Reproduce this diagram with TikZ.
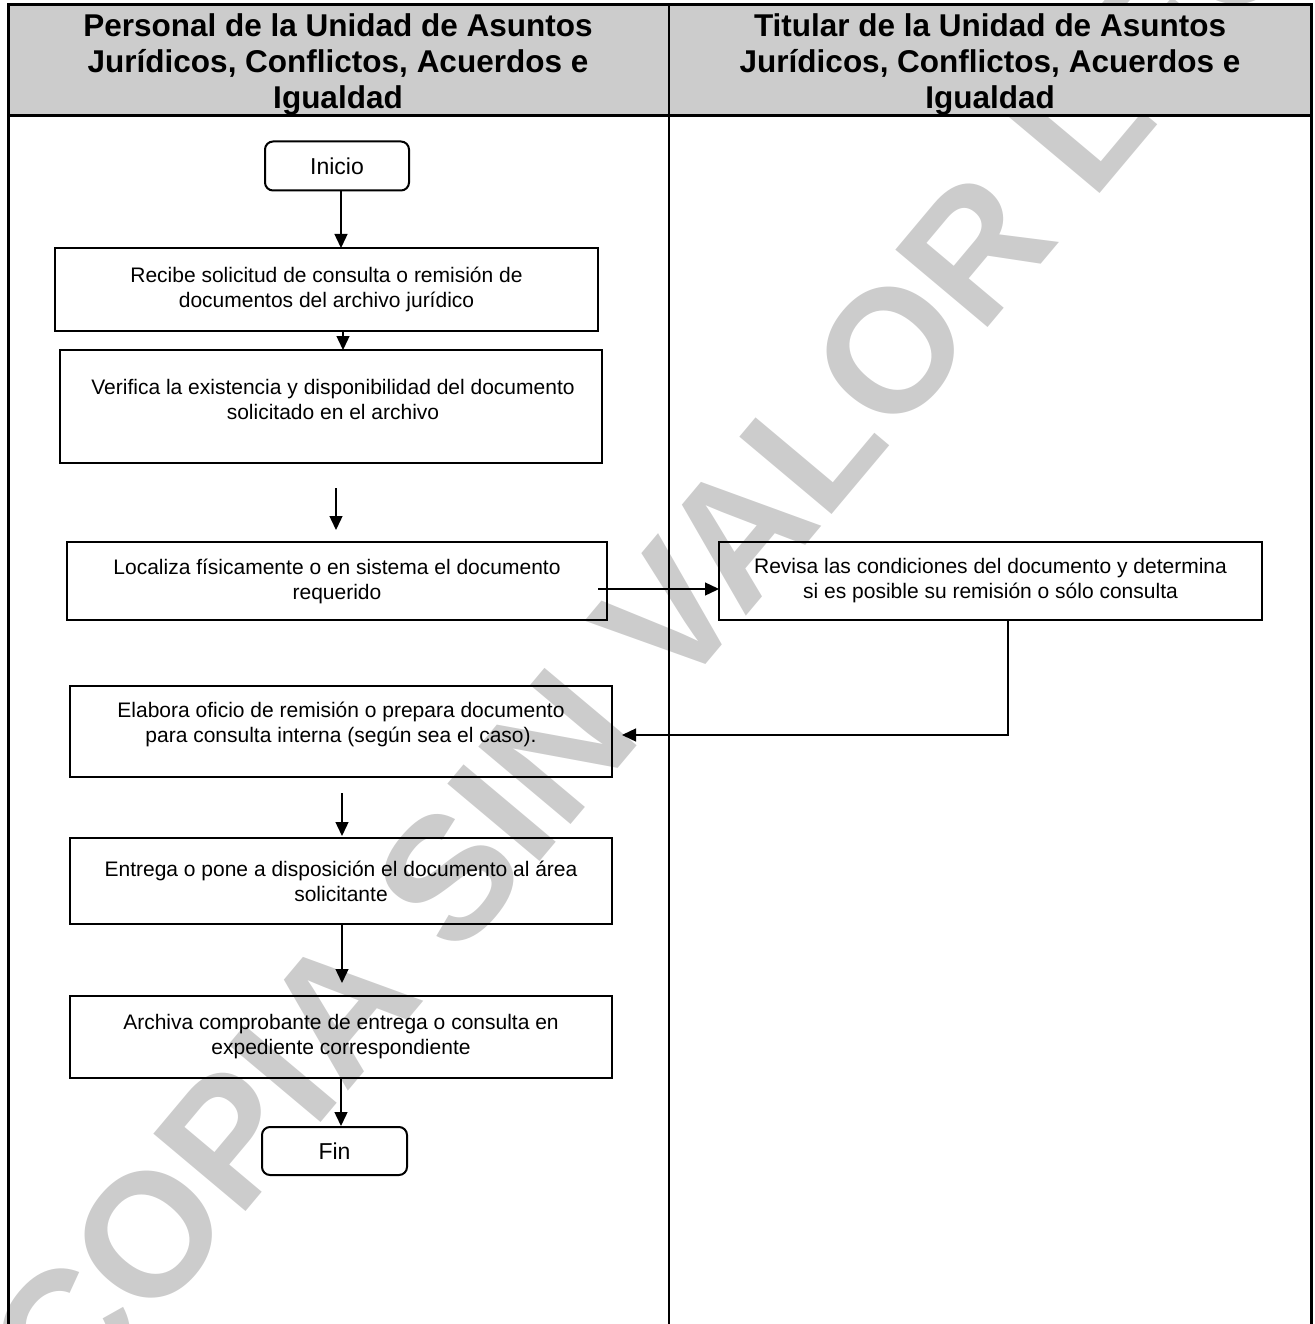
\documentclass[tikz,border=0pt]{standalone}
\usepackage{fontspec}
\setmainfont{Liberation Sans}
\usetikzlibrary{arrows.meta}
\begin{document}
\begin{tikzpicture}[x=1pt,y=-1pt,
  box/.style={draw, line width=2pt, align=center, inner sep=0pt, outer sep=0pt,
    font=\fontsize{21}{25}\selectfont},
  txt/.style={align=center, inner sep=0pt, font=\fontsize{21}{25}\selectfont},
  term/.style={draw, line width=2pt, rounded corners=8pt, align=center, inner sep=0pt, outer sep=0pt,
    font=\fontsize{23}{27}\selectfont},
  arr/.style={line width=1.4pt, -{Triangle[length=14pt,width=13pt]}},
  hdr/.style={align=center, font=\fontsize{31.5}{36}\bfseries\selectfont},
  tline/.style={line width=3pt}
]
\useasboundingbox (0,0) rectangle (1314,1324);
% header fill
\fill[gray!40] (8,5) rectangle (1311,116);
% watermark
\node[rotate=50, anchor=base west, text=gray!40, inner sep=0pt,
  font=\fontsize{175}{175}\bfseries\selectfont] (wm) at (70,1422) {COPIA SIN VALOR LEGAL};
% table lines
\draw[tline] (8,1330) -- (8,5) -- (1311,5) -- (1311,1330);
\draw[tline] (8,116) -- (1311,116);
\draw[line width=2.5pt] (669,5) -- (669,1330);
% headers
\node[hdr] (h1) at (338,64) {Personal de la Unidad de Asuntos\\Jurídicos, Conflictos, Acuerdos e\\Igualdad};
\node[hdr] (h2) at (990,64) {Titular de la Unidad de Asuntos\\Jurídicos, Conflictos, Acuerdos e\\Igualdad};
% nodes
\node[term, minimum width=144pt, minimum height=49pt] (inicio) at (337,166) {Inicio};
\node[box, minimum width=543pt, minimum height=83pt] (recibe) at (326.5,289.5)
  {Recibe solicitud de consulta o remisión de\\documentos del archivo jurídico};
\node[box, minimum width=542pt, minimum height=113pt] (verifica) at (331,406.5) {};
\node[txt] (verificaT) at (333,399)
  {Verifica la existencia y disponibilidad del documento\\solicitado en el archivo};
\node[box, minimum width=540pt, minimum height=78pt] (localiza) at (337,581)
  {Localiza físicamente o en sistema el documento\\requerido};
\node[box, minimum width=543pt, minimum height=78pt] (revisa) at (990.5,581)
  {Revisa las condiciones del documento y determina\\si es posible su remisión o sólo consulta};
\node[box, minimum width=542pt, minimum height=91pt] (elabora) at (341,731.5) {};
\node[txt] (elaboraT) at (341,724.5)
  {Elabora oficio de remisión o prepara documento\\para consulta interna (según sea el caso).};
\node[box, minimum width=542pt, minimum height=86pt] (entrega) at (341,881)
  {Entrega o pone a disposición el documento al área\\solicitante};
\node[box, minimum width=542pt, minimum height=82pt] (archiva) at (341,1037)
  {Archiva comprobante de entrega o consulta en\\expediente correspondiente};
\node[term, minimum width=145pt, minimum height=48pt] (fin) at (334.5,1151) {Fin};
% connectors
\draw[arr] ([xshift=4pt]inicio.south) -- ([xshift=14.5pt]recibe.north);
\draw[arr] ([xshift=16.5pt]recibe.south) -- ([xshift=12pt]verifica.north);
\draw[arr] ([xshift=5pt,yshift=-25pt]verifica.south) -- ([xshift=-1pt,yshift=12pt]localiza.north);
\draw[arr] ([xshift=-9pt,yshift=-8pt]localiza.east) -- ([yshift=-8pt]revisa.west);
\draw[arr] ([xshift=17.5pt]revisa.south) |- ([xshift=10pt,yshift=-3.5pt]elabora.east);
\draw[arr] ([xshift=1pt,yshift=-16pt]elabora.south) -- ([xshift=1pt,yshift=2pt]entrega.north);
\draw[arr] ([xshift=1pt]entrega.south) -- ([xshift=1pt,yshift=13pt]archiva.north);
\draw[arr] ([xshift=0pt]archiva.south) -- ([xshift=6.5pt,yshift=1pt]fin.north);
\end{tikzpicture}
\end{document}
